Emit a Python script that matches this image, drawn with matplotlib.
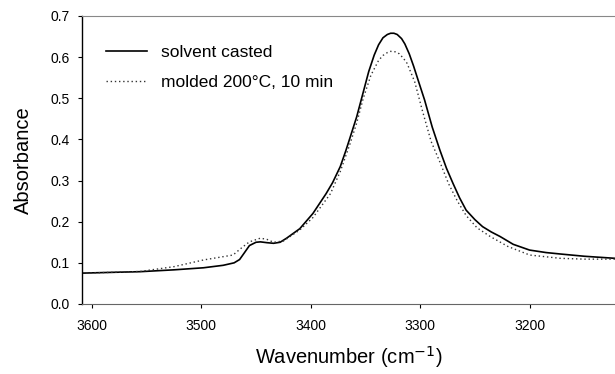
import matplotlib.pyplot as plt

plt.rcParams.update({"font.family": ["Liberation Sans", "DejaVu Sans"]})

# solvent casted film (solid)
wn_cast = [3609, 3580, 3556, 3525, 3498, 3480, 3470, 3465, 3461, 3456,
           3450, 3446, 3440, 3434, 3428, 3422, 3410, 3398, 3386, 3380,
           3373, 3368, 3364, 3358, 3352, 3347, 3342, 3338, 3334, 3330,
           3327, 3324, 3321, 3317, 3314, 3310, 3306, 3302, 3296, 3289,
           3282, 3276, 3270, 3264, 3258, 3250, 3243, 3235, 3227, 3215,
           3200, 3185, 3172, 3150, 3122]
abs_cast = [0.075, 0.077, 0.0785, 0.083, 0.088, 0.094, 0.100, 0.108, 0.123, 0.142,
            0.150, 0.151, 0.149, 0.1475, 0.150, 0.160, 0.183, 0.220, 0.268, 0.295,
            0.334, 0.372, 0.405, 0.455, 0.515, 0.565, 0.605, 0.630, 0.647, 0.655,
            0.658, 0.658, 0.655, 0.645, 0.632, 0.608, 0.578, 0.545, 0.496, 0.430,
            0.374, 0.330, 0.293, 0.258, 0.228, 0.205, 0.188, 0.175, 0.164, 0.145,
            0.131, 0.125, 0.1215, 0.116, 0.111]

# molded 200 C, 10 min (dotted)
wn_mold = [3609, 3580, 3556, 3525, 3498, 3471, 3462, 3456, 3446, 3440,
           3434, 3425, 3410, 3398, 3382, 3373, 3364, 3358, 3352, 3345,
           3338, 3334, 3330, 3327, 3323, 3319, 3315, 3312, 3305, 3298,
           3290, 3282, 3274, 3266, 3258, 3248, 3236, 3220, 3200, 3172,
           3150, 3122]
abs_mold = [0.075, 0.077, 0.079, 0.0907, 0.107, 0.119, 0.139, 0.151, 0.160, 0.157,
            0.150, 0.153, 0.180, 0.210, 0.268, 0.322, 0.390, 0.440, 0.500, 0.556,
            0.592, 0.604, 0.611, 0.614, 0.613, 0.608, 0.596, 0.585, 0.540, 0.470,
            0.395, 0.345, 0.292, 0.250, 0.215, 0.185, 0.164, 0.140, 0.119, 0.111,
            0.109, 0.109]

xticks = [3600, 3500, 3400, 3300, 3200]
yticks = [0.0, 0.1, 0.2, 0.3, 0.4, 0.5, 0.6, 0.7]

fig = plt.figure(figsize=(6.15, 3.74), dpi=100)
ax = fig.add_axes([0.1333, 0.1872, 0.8667, 0.7701])

ax.plot(wn_cast, abs_cast, color="black", linewidth=1.2, label="solvent casted")
ax.plot(wn_mold, abs_mold, color="#333333", linewidth=1.0, linestyle=(0, (1, 2)),
        label="molded 200°C, 10 min")

ax.set_xlim(3609, 3122)
ax.set_ylim(0.0, 0.7)
ax.set_xticks(xticks)
ax.set_yticks(yticks)
ax.set_yticklabels([f"{v:.1f}" for v in yticks])
ax.tick_params(direction="out", length=3, width=0.8, labelsize=10)
ax.tick_params(axis="x", pad=8)
ax.tick_params(axis="y", pad=6)

ax.spines["right"].set_visible(False)
ax.spines["top"].set_color("#888888")
ax.spines["top"].set_linewidth(0.8)
ax.spines["bottom"].set_color("#666666")
ax.spines["bottom"].set_linewidth(0.8)
ax.spines["left"].set_linewidth(1.0)

ax.set_xlabel("Wavenumber (cm$^{-1}$)", fontsize=14.5, labelpad=8)
ax.set_ylabel("Absorbance", fontsize=14.5, labelpad=12)

ax.legend(loc="upper left", frameon=False, fontsize=12.5, handlelength=2.4,
          handletextpad=0.8, bbox_to_anchor=(0.015, 0.955), labelspacing=0.85)

fig.savefig("out.png", dpi=100)
